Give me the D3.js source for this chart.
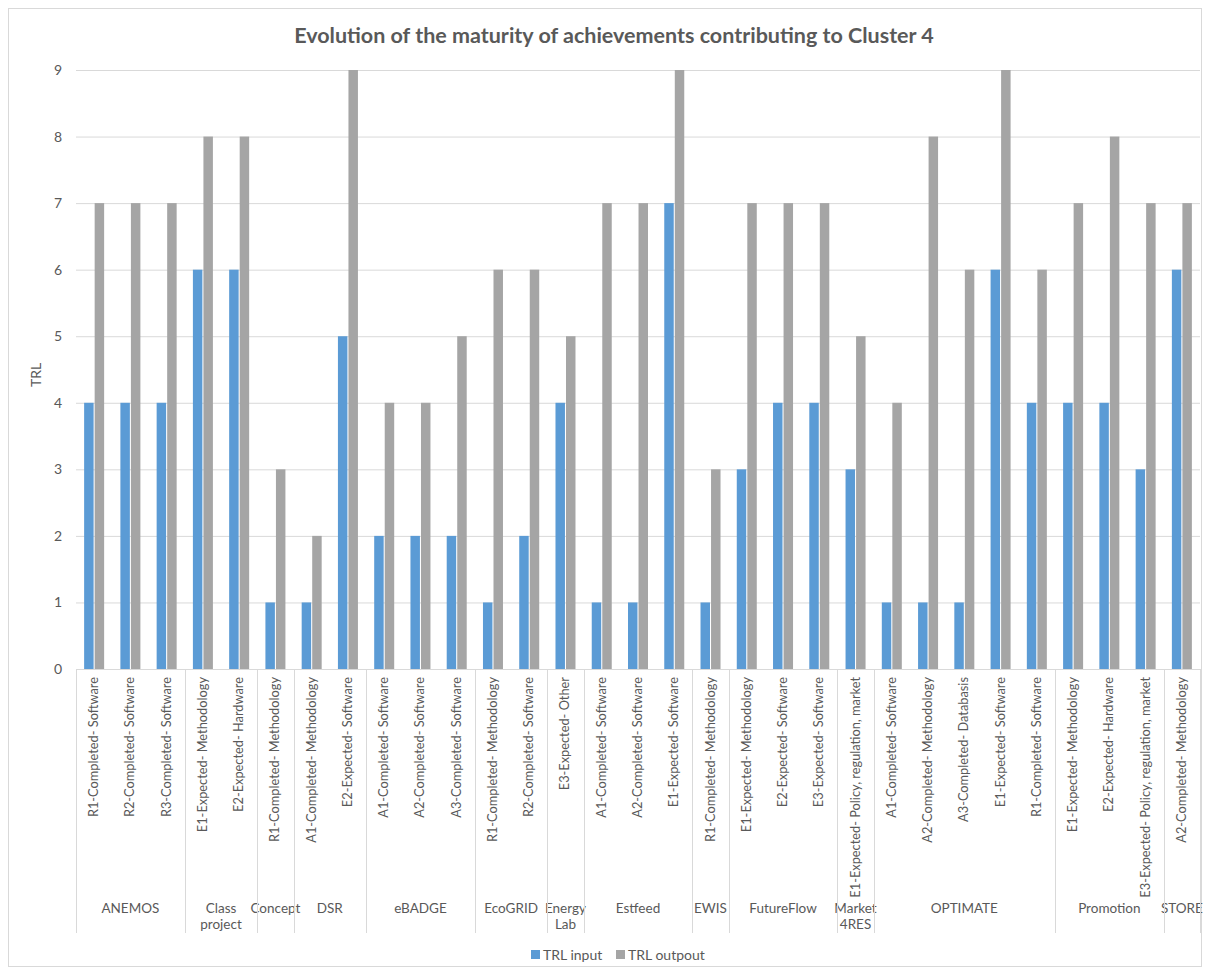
<!DOCTYPE html>
<html><head><meta charset="utf-8">
<script src="https://cdn.jsdelivr.net/npm/d3@7"></script>
<style>body{margin:0;background:#fff}svg{display:block}text{font-family:Lato,"Open Sans",sans-serif;fill:#595959}</style>
</head><body><svg id="c" width="1210" height="974"></svg>
<script>
const groups = ["ANEMOS","Class project","Concept","DSR","eBADGE","EcoGRID","Energy Lab","Estfeed","EWIS","FutureFlow","Market 4RES","OPTIMATE","Promotion","STORE"];
const groupLines = [["ANEMOS"],["Class","project"],["Concept"],["DSR"],["eBADGE"],["EcoGRID"],["Energy","Lab"],["Estfeed"],["EWIS"],["FutureFlow"],["Market","4RES"],["OPTIMATE"],["Promotion"],["STORE"]];
const categories = [
 ["ANEMOS","R1-Completed- Software"],["ANEMOS","R2-Completed- Software"],["ANEMOS","R3-Completed- Software"],
 ["Class project","E1-Expected- Methodology"],["Class project","E2-Expected- Hardware"],
 ["Concept","R1-Completed- Methodology"],
 ["DSR","A1-Completed- Methodology"],["DSR","E2-Expected- Software"],
 ["eBADGE","A1-Completed- Software"],["eBADGE","A2-Completed- Software"],["eBADGE","A3-Completed- Software"],
 ["EcoGRID","R1-Completed- Methodology"],["EcoGRID","R2-Completed- Software"],
 ["Energy Lab","E3-Expected- Other"],
 ["Estfeed","A1-Completed- Software"],["Estfeed","A2-Completed- Software"],["Estfeed","E1-Expected- Software"],
 ["EWIS","R1-Completed- Methodology"],
 ["FutureFlow","E1-Expected- Methodology"],["FutureFlow","E2-Expected- Software"],["FutureFlow","E3-Expected- Software"],
 ["Market 4RES","E1-Expected- Policy, regulation, market"],
 ["OPTIMATE","A1-Completed- Software"],["OPTIMATE","A2-Completed- Methodology"],["OPTIMATE","A3-Completed- Databasis"],["OPTIMATE","E1-Expected- Software"],["OPTIMATE","R1-Completed- Software"],
 ["Promotion","E1-Expected- Methodology"],["Promotion","E2-Expected- Hardware"],["Promotion","E3-Expected- Policy, regulation, market"],
 ["STORE","A2-Completed- Methodology"]
];
const trlInput  = [4,4,4,6,6,1,1,5,2,2,2,1,2,4,1,1,7,1,3,4,4,3,1,1,1,6,4,4,4,3,6];
const trlOutput = [7,7,7,8,8,3,2,9,4,4,5,6,6,5,7,7,9,3,7,7,7,5,4,8,6,9,6,7,8,7,7];
const seriesNames = ["TRL input","TRL outpout"];
const colors = ["#5B9BD5","#A5A5A5"];
const yTicks = [0,1,2,3,4,5,6,7,8,9];

const svg = d3.select("#c");
svg.append("rect").attr("x",8.5).attr("y",8.5).attr("width",1193).attr("height",958).attr("fill","#fff").attr("stroke","#D9D9D9");

const L=76, R=1200, T=70, B=669;
const idx = categories.map((d,i)=>i);
const x = d3.scaleBand().domain(idx).range([L,R]);
const y = d3.scaleLinear().domain([0,9]).range([B,T]);

// gridlines
svg.append("g").selectAll("line").data(yTicks).join("line")
  .attr("x1",L).attr("x2",R).attr("y1",d=>y(d)+0.5).attr("y2",d=>y(d)+0.5)
  .attr("stroke","#D9D9D9");
// y tick labels
const yAxis = d3.axisLeft(y).tickValues(yTicks).tickSize(0).tickPadding(14);
const ya = svg.append("g").attr("transform",`translate(${L},0)`).call(yAxis);
ya.select(".domain").remove();
ya.selectAll("text").style("font-size","14px").attr("fill","#595959").style("font-family","Lato,'Open Sans',sans-serif");

svg.append("text").attr("transform",`translate(41,375) rotate(-90)`).attr("text-anchor","middle")
  .style("font-size","14px").text("TRL");

// bars
const xs = d3.scaleBand().domain([0,1]).range([-10,10]).paddingInner(0.1);
[trlInput,trlOutput].forEach((vals,s)=>{
  svg.append("g").selectAll("rect").data(vals).join("rect")
    .attr("x",(d,i)=>x(i)+x.bandwidth()/2+xs(s))
    .attr("width",xs.bandwidth())
    .attr("y",d=>y(d)).attr("height",d=>B-y(d))
    .attr("fill",colors[s]);
});

// baseline
svg.append("line").attr("x1",L).attr("x2",R).attr("y1",B+0.5).attr("y2",B+0.5).attr("stroke","#D9D9D9");

// category labels
svg.append("g").selectAll("text").data(categories).join("text")
  .attr("transform",(d,i)=>`translate(${x(i)+x.bandwidth()/2+4},677) rotate(-90)`)
  .attr("text-anchor","end").style("font-size","12.8px").text(d=>d[1]);

// group boundaries and labels
let start=0;
const bounds=[L];
groups.forEach((g,gi)=>{
  const n = categories.filter(c=>c[0]===g).length;
  const x0 = x(start), x1 = x(start+n-1)+x.bandwidth();
  bounds.push(x1);
  const t = svg.append("text").attr("text-anchor","middle").style("font-size","13.5px");
  groupLines[gi].forEach((ln,k)=>t.append("tspan").attr("x",(x0+x1)/2).attr("y",913+k*16).text(ln));
  start+=n;
});
svg.append("g").selectAll("line").data(bounds).join("line")
  .attr("x1",d=>Math.round(d)+0.5).attr("x2",d=>Math.round(d)+0.5).attr("y1",B).attr("y2",933)
  .attr("stroke","#D9D9D9");

// title
svg.append("text").attr("x",614).attr("y",43).attr("text-anchor","middle")
  .style("font-size","21.5px").style("font-weight","bold").text("Evolution of the maturity of achievements contributing to Cluster 4");

// legend
const lg = svg.append("g");
const lx=[531,616];
seriesNames.forEach((n,i)=>{
  lg.append("rect").attr("x",lx[i]).attr("y",950).attr("width",9).attr("height",9).attr("fill",colors[i]);
  lg.append("text").attr("x",lx[i]+12).attr("y",960).style("font-size","14px").text(n);
});
</script></body></html>
